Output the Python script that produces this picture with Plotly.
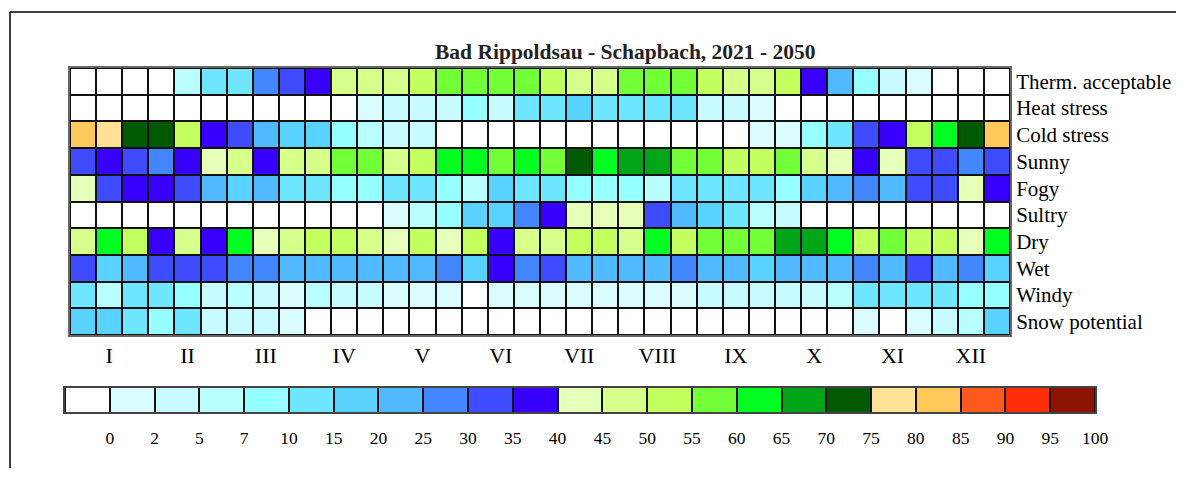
import numpy as np
import plotly.graph_objects as go

title = "Bad Rippoldsau - Schapbach, 2021 - 2050"
indicators = ["Therm. acceptable", "Heat stress", "Cold stress", "Sunny", "Fogy",
              "Sultry", "Dry", "Wet", "Windy", "Snow potential"]
months = ["I", "II", "III", "IV", "V", "VI", "VII", "VIII", "IX", "X", "XI", "XII"]

# class limits (% of days) and colours of the legend
class_edges = [0, 2, 5, 7, 10, 15, 20, 25, 30, 35, 40, 45, 50, 55, 60, 65, 70, 75, 80, 85, 90, 95, 100]
class_colors = ["#FFFFFF", "#DAFCFF", "#C8FBFF", "#B9FFFF", "#96FFFF", "#6EE6FF", "#5AD2FF",
                "#50B9FF", "#4287FF", "#3F4BFF", "#3700FF", "#E6FFB9", "#D7FF8C", "#C3FF5F",
                "#73FF37", "#00FF21", "#00A518", "#005A00", "#FFE196", "#FFC85A", "#FF5A1E",
                "#FF2D0A", "#8C1400"]

# frequency (%) per decade (3 per month, 36 per year)
therm_acceptable = [0, 0, 0, 0, 6, 12.5, 12.5, 27.5, 32.5, 37.5, 47.5, 47.5, 47.5, 52.5, 57.5, 57.5, 57.5, 57.5,
                    52.5, 47.5, 47.5, 57.5, 57.5, 57.5, 52.5, 47.5, 47.5, 52.5, 37.5, 22.5, 8.5, 3.5, 1, 0, 0, 0]
heat_stress = [0] * 11 + [1, 3.5, 3.5, 3.5, 8.5, 3.5, 12.5, 12.5, 17.5, 12.5, 12.5, 12.5, 12.5, 3.5, 3.5, 1] + [0] * 9
cold_stress = [82.5, 77.5, 72.5, 72.5, 52.5, 37.5, 32.5, 22.5, 17.5, 17.5, 8.5, 6, 3.5, 3.5] + [0] * 12 + \
              [1, 1, 8.5, 12.5, 32.5, 37.5, 52.5, 62.5, 72.5, 82.5]
sunny = [32.5, 37.5, 32.5, 27.5, 37.5, 42.5, 47.5, 37.5, 47.5, 47.5, 57.5, 57.5, 47.5, 52.5, 62.5, 62.5, 57.5, 62.5,
         57.5, 72.5, 62.5, 67.5, 67.5, 57.5, 57.5, 52.5, 52.5, 57.5, 47.5, 42.5, 37.5, 42.5, 32.5, 32.5, 27.5, 32.5]
fogy = [42.5, 32.5, 37.5, 37.5, 32.5, 22.5, 17.5, 22.5, 12.5, 12.5, 8.5, 8.5, 12.5, 12.5, 8.5, 6, 17.5, 12.5,
        12.5, 8.5, 8.5, 8.5, 6, 12.5, 12.5, 12.5, 12.5, 8.5, 17.5, 22.5, 27.5, 22.5, 32.5, 32.5, 42.5, 37.5]
sultry = [0] * 12 + [1, 6, 8.5, 17.5, 17.5, 27.5, 37.5, 42.5, 42.5, 42.5, 32.5, 22.5, 17.5, 12.5, 6, 3.5] + [0] * 8
dry = [47.5, 62.5, 52.5, 37.5, 47.5, 37.5, 62.5, 42.5, 47.5, 52.5, 52.5, 47.5, 42.5, 52.5, 42.5, 52.5, 37.5, 47.5,
       47.5, 52.5, 52.5, 47.5, 62.5, 52.5, 57.5, 57.5, 57.5, 67.5, 67.5, 62.5, 52.5, 57.5, 52.5, 52.5, 42.5, 62.5]
wet = [32.5, 17.5, 22.5, 32.5, 32.5, 32.5, 27.5, 27.5, 22.5, 22.5, 22.5, 22.5, 22.5, 22.5, 27.5, 17.5, 37.5, 27.5,
       32.5, 22.5, 22.5, 22.5, 22.5, 27.5, 22.5, 22.5, 17.5, 22.5, 22.5, 22.5, 27.5, 22.5, 32.5, 22.5, 27.5, 17.5]
windy = [12.5, 6, 12.5, 12.5, 8.5, 3.5, 6, 3.5, 1, 6, 3.5, 3.5, 1, 1, 1, 0, 1, 1,
         1, 1, 1, 1, 1, 1, 3.5, 3.5, 3.5, 3.5, 3.5, 6, 12.5, 12.5, 12.5, 12.5, 8.5, 8.5]
snow_potential = [17.5, 17.5, 12.5, 8.5, 12.5, 3.5, 3.5, 3.5, 1] + [0] * 21 + [1, 0, 1, 3.5, 6, 17.5]

series = [therm_acceptable, heat_stress, cold_stress, sunny, fogy, sultry, dry, wet, windy, snow_potential]

# the page body has an 8px margin: keep the figure inside the 1184x484 window (no scrollbars)
PAGE_MARGIN = 8
W, H = 1184 - 2 * PAGE_MARGIN, 484 - 3 * PAGE_MARGIN
FONT = "Liberation Serif, Times New Roman, serif"

vals = np.array(series, dtype=float)
edges = np.array(class_edges, dtype=float)
cls = np.where(vals <= 0, 0, np.searchsorted(edges[1:], vals) + 1)

n = len(class_colors)
colorscale = []
for k, c in enumerate(class_colors):
    colorscale.append([k / n, c])
    colorscale.append([(k + 1) / n, c])

fig = go.Figure()
fig.add_trace(go.Heatmap(
    z=cls, x=list(range(36)), y=list(range(len(indicators))),
    customdata=vals, hovertemplate="%{customdata}%<extra></extra>",
    colorscale=colorscale, zmin=-0.5, zmax=n - 0.5, showscale=False,
    xgap=2, ygap=2, xaxis="x", yaxis="y"))

fig.add_trace(go.Heatmap(
    z=[list(range(n))], x=list(range(n)), y=[0],
    colorscale=colorscale, zmin=-0.5, zmax=n - 0.5, showscale=False,
    xgap=2, ygap=0, hoverinfo="skip", xaxis="x2", yaxis="y2"))


def px(x):
    return (x - PAGE_MARGIN) / W


def py(y):
    return 1 - (y - PAGE_MARGIN) / H


fig.update_layout(
    width=W, height=H,
    margin=dict(l=0, r=0, t=0, b=0, pad=0),
    paper_bgcolor="white", plot_bgcolor="#111111",
    showlegend=False,
    xaxis=dict(domain=[px(70), px(1010)], range=[-0.5, 35.5], anchor="y", automargin=False,
               tickvals=[3 * i + 1 for i in range(12)], ticktext=months, ticks="",
               showgrid=False, zeroline=False, showline=True, mirror=True,
               linecolor="#666666", linewidth=2,
               tickfont=dict(family=FONT, size=22, color="black")),
    yaxis=dict(domain=[py(335), py(68)], range=[len(indicators) - 0.5, -0.5], anchor="x", automargin=False,
               tickvals=list(range(len(indicators))), ticktext=indicators, side="right", ticks="",
               showgrid=False, zeroline=False, showline=True, mirror=True,
               linecolor="#666666", linewidth=2,
               tickfont=dict(family=FONT, size=21, color="black")),
    xaxis2=dict(domain=[px(65), px(1095)], range=[-0.5, n - 0.5], anchor="y2", automargin=False,
                tickvals=[k + 0.5 for k in range(n)], ticktext=[str(e) for e in class_edges], ticks="",
                ticklabelstandoff=9,
                showgrid=False, zeroline=False, showline=True, mirror=True,
                linecolor="#444444", linewidth=2,
                tickfont=dict(family=FONT, size=17.5, color="black")),
    yaxis2=dict(domain=[py(412), py(388)], range=[-0.5, 0.5], anchor="x2", automargin=False,
                showticklabels=False, ticks="", showgrid=False, zeroline=False,
                showline=True, mirror=True, linecolor="#444444", linewidth=2),
    annotations=[dict(text="<b>" + title + "</b>", x=px(626), y=py(52), xref="paper", yref="paper",
                      showarrow=False, xanchor="center", yanchor="middle",
                      font=dict(family=FONT, size=21.5, color="#222222"))],
    shapes=[dict(type="line", xref="paper", yref="paper", x0=px(10), x1=1, y0=py(12), y1=py(12),
                 line=dict(color="black", width=1.5)),
            dict(type="line", xref="paper", yref="paper", x0=px(10), x1=px(10), y0=0, y1=py(12),
                 line=dict(color="black", width=1.5))],
)

fig.write_html("out.html")
